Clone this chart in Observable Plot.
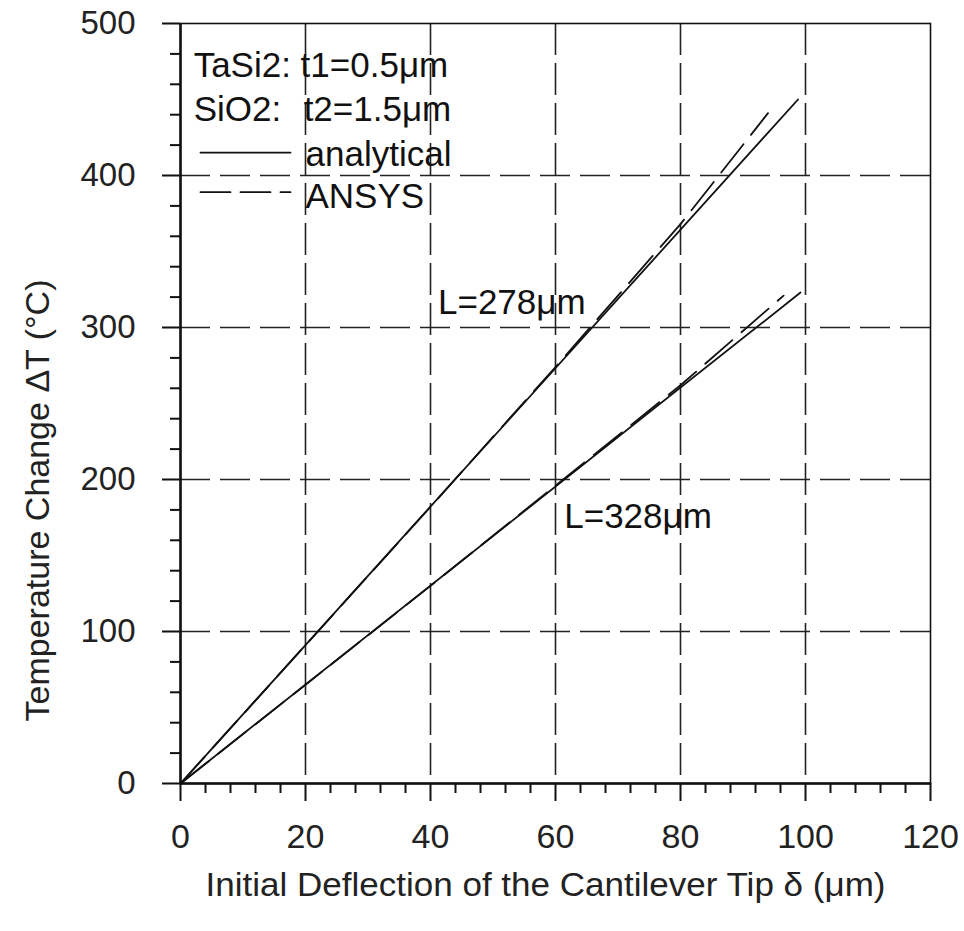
<!DOCTYPE html>
<html><head><meta charset="utf-8">
<script src="https://cdn.jsdelivr.net/npm/d3@7"></script>
<script src="https://cdn.jsdelivr.net/npm/@observablehq/plot@0.6"></script>
<style>body{margin:0;background:#fff}</style>
</head><body><div id="chart"></div>
<script>
// ---- data ----
const analytical278X = [0, 98.8];
const analytical278Y = [0, 450];
const ansys278X = [0, 20, 40, 60, 80, 94];
const ansys278Y = [0, 91, 182, 274, 368, 441];
const analytical328X = [0, 99.2];
const analytical328Y = [0, 323];
const ansys328X = [0, 20, 40, 60, 80, 96.5];
const ansys328Y = [0, 65, 130, 196, 262, 321];

const xTicks = [0, 20, 40, 60, 80, 100, 120];
const yTicks = [0, 100, 200, 300, 400, 500];
const xGrid = [20, 40, 60, 80, 100];
const yGrid = [100, 200, 300, 400];
const xMinor = d3.range(0, 121, 4).filter(v => v % 20 !== 0);
const yMinor = d3.range(0, 501, 20).filter(v => v % 100 !== 0);

const xTitle = "Initial Deflection of the Cantilever Tip \u03b4 (\u03bcm)";
const yTitle = "Temperature Change \u0394T (\u00b0C)";
const curveLabels = ["L=278\u03bcm", "L=328\u03bcm"];
const legendTexts = ["TaSi2: t1=0.5\u03bcm", "SiO2:", "t2=1.5\u03bcm", "analytical", "ANSYS"];

// ---- tables built from the arrays ----
const pts = (xs, ys, s) => xs.map((x, i) => ({x, y: ys[i], s}));
const analytical = [...pts(analytical278X, analytical278Y, "278"), ...pts(analytical328X, analytical328Y, "328")];
const ansys = [...pts(ansys278X, ansys278Y, "278"), ...pts(ansys328X, ansys328Y, "328")];

// layout of the in-plot annotations (data units)
const labelPos = [{x: 41.2, y: 309}, {x: 61.4, y: 168}];
const legendPos = [{x: 2.1, y: 465}, {x: 2.1, y: 436}, {x: 19.7, y: 436}, {x: 20.0, y: 406}, {x: 20.0, y: 378.5}];
const legendSolid = [{x: 3.2, y: 415}, {x: 17.6, y: 415}];
const legendDash = [{x: 3.2, y: 389}, {x: 17.6, y: 389}];

const font = "'Liberation Sans', Arial, Helvetica, sans-serif";
const ink = "#111";

const chart = Plot.plot({
  width: 964, height: 931,
  marginLeft: 180, marginRight: 34, marginTop: 23, marginBottom: 148,
  x: {domain: [0, 120], label: null},
  y: {domain: [0, 500], label: null},
  style: {fontFamily: font, fontSize: "33px", color: ink, background: "#fff"},
  marks: [
    Plot.ruleX(xGrid, {stroke: "#222", strokeWidth: 1.6, strokeDasharray: "32,8"}),
    Plot.ruleY(yGrid, {stroke: "#222", strokeWidth: 1.6, strokeDasharray: "30,10"}),
    Plot.frame({stroke: ink, strokeWidth: 1.6}),
    Plot.ruleX([0], {stroke: ink, strokeWidth: 2.5}),
    Plot.ruleY([0], {stroke: ink, strokeWidth: 2.5}),
    Plot.axisX(xTicks, {tickSize: 18, tickPadding: 22, strokeWidth: 2, stroke: ink, fontSize: 34, fill: "#222", label: null}),
    Plot.axisX(xMinor, {tickSize: 10, strokeWidth: 2, stroke: ink, tickFormat: () => "", label: null}),
    Plot.axisY(yTicks, {tickSize: 18, tickPadding: 27, strokeWidth: 2, stroke: ink, fontSize: 33, fill: "#222", label: null}),
    Plot.axisY(yMinor, {tickSize: 10, strokeWidth: 2, stroke: ink, tickFormat: () => "", label: null}),
    Plot.line(analytical, {x: "x", y: "y", z: "s", stroke: ink, strokeWidth: 1.8}),
    Plot.line(ansys, {x: "x", y: "y", z: "s", stroke: ink, strokeWidth: 1.8, strokeDasharray: "36,12"}),
    Plot.text(curveLabels, {x: (d, i) => labelPos[i].x, y: (d, i) => labelPos[i].y, text: d => d, textAnchor: "start", lineAnchor: "bottom", fontSize: 35, fill: ink}),
    Plot.text(legendTexts, {x: (d, i) => legendPos[i].x, y: (d, i) => legendPos[i].y, text: d => d, textAnchor: "start", lineAnchor: "bottom", fontSize: 35, fill: ink}),
    Plot.line(legendSolid, {x: "x", y: "y", stroke: ink, strokeWidth: 1.8}),
    Plot.line(legendDash, {x: "x", y: "y", stroke: ink, strokeWidth: 1.8, strokeDasharray: "30,10"}),
    Plot.text([xTitle], {frameAnchor: "bottom", dx: -10, dy: 102, text: d => d, fontSize: 34, fill: "#222", lineAnchor: "middle", textAnchor: "middle"}),
    Plot.text([yTitle], {frameAnchor: "left", dx: -142, dy: 97, rotate: -90, text: d => d, fontSize: 34, fill: "#222", lineAnchor: "middle", textAnchor: "middle"})
  ]
});
document.getElementById("chart").appendChild(chart);

// fit the x axis title to the length seen in the reference
d3.select(chart).selectAll("text").each(function() {
  if (this.textContent === xTitle) d3.select(this).attr("textLength", 680).attr("lengthAdjust", "spacingAndGlyphs");
});
</script>
</body></html>
